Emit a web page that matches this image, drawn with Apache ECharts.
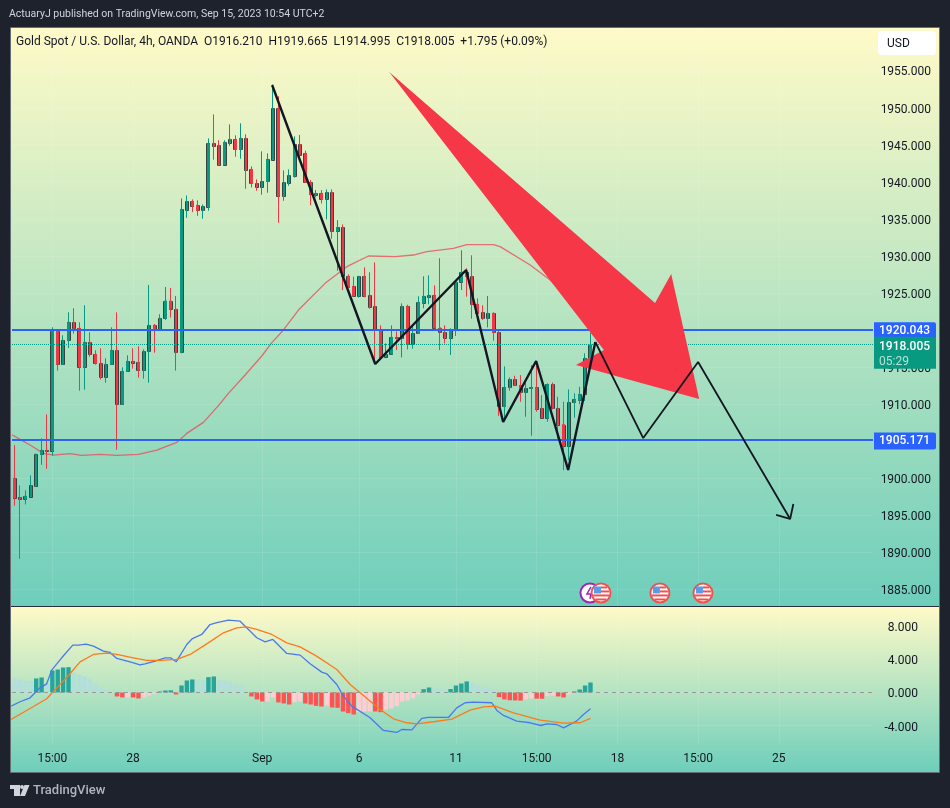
<!DOCTYPE html>
<html>
<head>
<meta charset="utf-8">
<title>Gold Spot / U.S. Dollar</title>
<script src="https://cdn.jsdelivr.net/npm/echarts@6/dist/echarts.min.js"></script>
<style>
html,body{margin:0;padding:0;background:#1e222d}
#main{width:950px;height:808px}
</style>
</head>
<body>
<div id="main"></div>
<script>
// 4h bars, oldest first
var opens=[1899.98,1897.41,1897.23,1897.50,1898.99,1903.22,1903.76,1903.71,1919.87,1915.37,
1918.60,1921.04,1920.23,1915.05,1918.34,1916.72,1915.50,1913.70,1915.37,1917.26,
1909.97,1914.42,1915.77,1915.64,1914.56,1917.12,1920.63,1920.09,1921.58,1923.92,
1922.84,1916.99,1936.22,1937.34,1936.80,1936.13,1936.62,1945.17,1944.90,1942.29,
1945.26,1945.71,1944.36,1945.85,1941.66,1939.77,1939.32,1940.04,1942.97,1949.89,
1938.10,1939.86,1940.81,1945.03,1943.82,1939.91,1938.24,1938.42,1937.70,1938.56,
1933.38,1933.83,1927.24,1925.88,1924.62,1927.24,1924.67,1923.18,1919.95,1916.39,
1916.75,1919.00,1918.87,1923.18,1918.05,1919.54,1923.68,1924.49,1924.67,1920.31,
1919.68,1918.96,1920.08,1926.51,1927.78,1927.24,1923.46,1922.38,1921.57,1922.24,
1919.67,1909.68,1912.25,1913.33,1912.52,1911.57,1912.11,1912.25,1909.42,1908.16,
1912.66,1909.42,1907.25,1904.37,1910.24,1910.55,1911.32,1916.21];
var closes=[1897.37,1897.23,1897.59,1899.03,1903.22,1903.76,1903.71,1919.87,1915.37,1918.60,
1921.04,1920.23,1915.05,1918.34,1916.72,1915.50,1913.70,1915.37,1917.26,1909.97,
1914.42,1915.77,1915.59,1914.56,1917.12,1920.63,1920.00,1921.58,1923.92,1922.84,
1916.99,1936.26,1937.34,1936.76,1936.13,1936.67,1945.17,1944.85,1942.29,1945.31,
1945.71,1944.36,1945.85,1941.62,1939.77,1939.32,1940.04,1943.01,1949.89,1938.10,
1939.90,1940.85,1945.03,1943.60,1939.91,1938.29,1938.42,1937.70,1938.56,1933.38,
1933.83,1927.26,1925.75,1924.62,1927.24,1924.62,1923.14,1919.95,1916.39,1916.70,
1919.00,1918.87,1923.18,1918.05,1919.54,1923.72,1924.54,1924.67,1920.31,1919.68,
1918.96,1920.08,1926.51,1927.78,1927.24,1923.46,1922.33,1921.57,1922.24,1919.67,
1909.68,1912.25,1913.33,1912.52,1911.57,1912.11,1912.25,1909.37,1908.16,1912.66,
1909.42,1907.25,1904.37,1910.24,1910.64,1911.32,1916.17,1918.005];
var lows=[1896.29,1889.13,1896.47,1897.50,1898.85,1901.82,1901.28,1903.04,1914.51,1915.28,
1917.57,1919.51,1911.81,1911.95,1916.40,1915.32,1913.30,1912.89,1915.37,1903.85,
1909.97,1914.42,1914.78,1913.57,1913.43,1912.89,1916.94,1920.00,1921.35,1921.67,
1914.51,1916.85,1935.13,1935.90,1935.40,1935.00,1936.08,1942.97,1942.15,1942.29,
1944.85,1943.37,1943.10,1939.05,1939.23,1938.78,1938.24,1938.51,1942.97,1934.46,
1937.43,1939.45,1940.54,1942.92,1939.91,1936.85,1937.88,1937.07,1934.91,1932.30,
1927.98,1925.37,1925.66,1924.49,1924.36,1924.40,1922.87,1915.49,1916.17,1916.39,
1916.75,1917.29,1916.30,1917.38,1917.47,1919.54,1922.92,1923.45,1920.22,1917.29,
1918.19,1916.62,1919.18,1925.39,1924.49,1921.52,1921.16,1921.34,1920.35,1918.55,
1908.42,1907.93,1911.80,1912.43,1910.31,1908.29,1905.73,1908.97,1908.16,1907.62,
1909.28,1905.36,1901.09,1902.44,1908.16,1909.97,1910.42,1914.995];
var highs=[1904.47,1899.03,1898.36,1900.38,1903.35,1905.38,1908.62,1920.36,1919.87,1919.28,
1922.38,1922.93,1921.04,1923.33,1919.69,1917.26,1917.53,1916.18,1920.36,1922.38,
1914.96,1916.58,1917.53,1917.80,1917.39,1926.07,1920.81,1922.12,1925.80,1925.67,
1924.59,1937.75,1938.15,1937.61,1937.48,1936.94,1945.85,1949.09,1945.58,1945.58,
1947.73,1946.25,1947.87,1946.39,1942.07,1940.31,1944.09,1943.82,1953.09,1951.52,
1941.53,1941.66,1946.11,1946.30,1944.18,1940.22,1938.87,1938.87,1938.96,1938.96,
1934.82,1934.23,1927.50,1927.19,1927.24,1928.45,1927.78,1929.12,1920.62,1918.19,
1920.62,1919.81,1923.59,1923.41,1920.66,1924.54,1927.24,1927.37,1926.02,1929.67,
1920.62,1920.22,1926.74,1930.75,1928.32,1930.07,1924.27,1923.32,1924.58,1922.38,
1920.08,1915.08,1913.60,1913.82,1913.91,1912.92,1915.26,1915.80,1911.21,1912.79,
1912.92,1910.99,1910.32,1911.98,1911.45,1912.34,1916.84,1919.665];

// moving average, vertices (bar position, price)
var maBars=[-0.5,1,2.86,5.33,7.19,10.29,12.46,15.87,18.97,22.99,26.4,30.12,31.98,35.07,37.86,39.72,42.82,45.92,47.78,49.95,
52.73,57.68,61.71,65.74,70.7,74.1,76.58,81.54,84.02,88.97,90.21,95.79,99.5,102.6];
var maPrices=[1905.87,1905.24,1904.48,1903.35,1903.13,1903.31,1903.08,1903.22,1903.08,1903.22,1903.8,1904.84,1906.05,1907.54,1909.79,1911.45,1913.93,1916.49,1918.29,1920.0,
1922.69,1926.29,1928.54,1929.98,1929.89,1930.11,1930.56,1931.0,1931.51,1931.51,1931.24,1928.77,1926.74,1924.5];

// drawings on the price pane
var zigzagBars=[47.84,67,83.9,90.77,96.9,102.85,107.9];
var zigzagPrices=[1953.04,1915.41,1928.09,1907.59,1915.82,1901.12,1918.38];
var forecastBars=[107.9,116.8,127,144.1];
var forecastPrices=[1918.38,1905.42,1915.68,1894.51];
var headBars=[141.5,144.1,144.7];
var headPrices=[1895.05,1894.51,1896.53];
var arrowBars=[69.6,119,122,127.2,104.3,109.5];
var arrowPrices=[1954.8,1923.64,1927.55,1910.69,1915.28,1917.3];
var levelPrices=[1920.043,1905.171];
var lastPrice=1918.005;
var countdown='05:29';
var usEventBars=[108.96,119.9,127.9];
var clockEventBars=[106.9];
var eventPrice=1884.53;

// MACD pane
var histValues=[1.69,1.57,1.41,1.41,1.69,1.81,1.04,2.65,2.77,3.01,
3.05,2.37,2.17,1.97,1.57,1.08,0.64,0.24,0.08,-0.48,
-0.6,-0.58,-0.6,-0.72,-0.6,-0.36,-0.16,0.12,0.24,0.26,
-0.24,0.84,1.45,1.57,1.53,1.45,1.85,1.93,1.53,1.41,
1.29,0.96,0.76,0.08,-0.48,-0.84,-1.08,-1.06,-0.6,-1.2,
-1.33,-1.45,-1.16,-1.08,-1.33,-1.45,-1.61,-1.69,-1.57,-1.81,
-1.85,-2.29,-2.49,-2.65,-2.37,-2.29,-2.27,-2.29,-2.37,-2.05,
-1.93,-1.65,-1.08,-0.96,-0.72,-0.24,0.40,0.60,0.48,0.47,
0.40,0.42,0.84,1.08,1.33,1.08,0.84,0.72,0.60,0.40,
-0.56,-0.84,-0.94,-0.96,-0.98,-0.84,-0.72,-0.74,-0.76,-0.44,
-0.36,-0.48,-0.6,-0.24,0.12,0.36,0.84,1.2];
var macdBars=[-0.68,1,2.86,4.72,5.95,6.88,8.74,10.79,11.84,13.27,14.63,16.49,17.73,18.97,21.44,23.3,24.23,26.09,27.95,29,30,31.98,33.03,34.76,36.3,37.56,39.72,41.89,43.44,44.99,46.54,47.97,50.57,53.04,54.9,57.07,58,59.86,61.1,62.65,66.05,68.52,71,71.94,73.8,75.65,76.9,80.6,82.15,83.7,85.26,88.66,89.6,90.84,93.3,95.8,97.77,98.9,100.75,102,104.4,105.7,107];
var macdValues=[-1.65,-1.12,-0.64,0.56,1.04,2.69,4.18,5.7,5.7,5.82,5.58,4.98,4.82,4.1,3.69,3.33,3.45,3.78,4.18,4.18,3.69,5.78,6.5,6.99,8.19,8.43,8.71,8.59,7.59,6.59,6.1,6.39,4.7,4.5,3.45,2.45,2.25,0.96,-0.44,-1.65,-3.05,-4.58,-4.82,-4.46,-4.5,-3.13,-3.01,-3.01,-1.85,-1.24,-1.16,-1.24,-2.17,-2.77,-3.45,-3.65,-3.98,-3.78,-3.86,-4.26,-3.45,-2.65,-1.97];
var signalBars=[-0.68,2.86,5.95,7.82,9.99,12.15,14.63,17.11,18.97,22.07,24.54,27,30.12,32.6,35.69,38.79,41.27,43.12,44.99,47.78,50.57,53.04,56.1,59.86,62.34,64.81,67.91,70.39,72.87,74.73,77.82,81.23,84.64,87.12,89.29,92.69,97.65,102,105.1,107];
var signalValues=[-3.25,-1.93,-0.76,0.56,2.05,3.69,4.58,4.74,4.58,4.18,3.86,3.86,3.98,4.58,5.86,7.19,7.79,7.91,7.59,6.99,5.98,5.5,4.38,2.77,0.96,-0.36,-2.05,-3.17,-3.65,-3.78,-3.53,-3.21,-2.13,-1.73,-1.65,-2.45,-3.33,-3.69,-3.65,-3.13];

// axis ticks
var tickBars=[7,22,46,64,82,97,112,127,142];
var tickTexts=['15:00','28','Sep','6','11','15:00','18','15:00','25'];
var priceTicks=[1885,1890,1895,1900,1905,1910,1915,1920,1925,1930,1935,1940,1945,1950,1955];
var macdTicks=[-4,0,4,8];

var BAR_SLOTS=160;
var FONT='Roboto, sans-serif';
var UP='#089981', DOWN='#f23645', BLUE='#2962ff';
var GRID_LINE='rgba(255,255,255,0.1)';

var categories=[];
for(var i=0;i<BAR_SLOTS;i++){
    var t=tickBars.indexOf(i);
    categories.push(t>=0?tickTexts[t]:'');
}

function zip(a,b){
    return a.map(function(v,k){return [v,b[k]];});
}
var isTick=function(index){return tickBars.indexOf(index)>=0;};
var priceLabel=function(v){return '{v|'+v.toFixed(3)+'}';};
// pushes the axis numbers down onto their ticks
var priceLabelRich={v:{padding:[4,0,0,0],color:'#131722',fontSize:12,fontFamily:FONT}};

function paneGradient(){
    return new echarts.graphic.LinearGradient(0,0,0,1,[
        {offset:0,color:'#fffac8'},
        {offset:1,color:'#6ecebb'}
    ]);
}

function histColor(p){
    var v=p.value, k=p.dataIndex;
    var prev=k>0?histValues[k-1]:v;
    if(v>=0) return v>prev?'#26a69a':'#b2dfdb';
    return v<prev?'#ff5252':'#ffcdd2';
}

function renderOutline(params,api){
    var x=Math.round(api.coord([api.value(0),0])[0]);
    var top=Math.round(api.coord([0,Math.max(api.value(1),api.value(2))])[1]);
    var bottom=Math.round(api.coord([0,Math.min(api.value(1),api.value(2))])[1]);
    return {type:'rect',shape:{x:x-1.5,y:top+0.5,width:3,height:Math.max(bottom-top,1)},
        style:{fill:'none',stroke:'rgba(50,58,58,0.95)',lineWidth:1}};
}

function renderArrow(params,api){
    var pts=zip(arrowBars,arrowPrices).map(function(p){return api.coord(p);});
    return {type:'polygon',shape:{points:pts},style:{fill:'#f53748'}};
}

function renderEvent(params,api){
    var c=api.coord([api.value(0),eventPrice]);
    if(api.value(1)==1){
        return {type:'group',x:c[0],y:c[1],children:[
            {type:'circle',shape:{r:9.5},style:{fill:'#fff',stroke:'#9c27b0',lineWidth:2}},
            {type:'polyline',shape:{points:[[1,-6],[-3,1],[1,1],[0,6]]},style:{fill:'none',stroke:'#9c27b0',lineWidth:1.5}}
        ]};
    }
    return {type:'group',x:c[0],y:c[1],children:[
        {type:'circle',shape:{r:9.5},style:{fill:'#fff',stroke:'#ef5350',lineWidth:2}},
        {type:'rect',shape:{x:0,y:-6.5,width:6,height:2},style:{fill:'#ef5350'}},
        {type:'rect',shape:{x:0,y:-2.5,width:8,height:2},style:{fill:'#ef5350'}},
        {type:'rect',shape:{x:-8,y:1.5,width:16,height:2},style:{fill:'#ef5350'}},
        {type:'rect',shape:{x:-5.5,y:5.5,width:11,height:2},style:{fill:'#ef5350'}},
        {type:'rect',shape:{x:-7,y:-6.5,width:7,height:7},style:{fill:'#5b9be6'}}
    ]};
}

var candleData=opens.map(function(o,k){return [o,closes[k],lows[k],highs[k]];});
var outlineData=opens.map(function(o,k){return [k,o,closes[k]];});
var eventData=clockEventBars.map(function(b){return [b,1];}).concat(usEventBars.map(function(b){return [b,0];}));

var levelLines=levelPrices.map(function(p){
    return {yAxis:p,
        lineStyle:{color:BLUE,width:2,type:'solid'},
        label:{formatter:p.toFixed(3),backgroundColor:BLUE,color:'#fff',fontWeight:500,padding:[3,5,2,5],width:52,align:'left',offset:[0,1],borderRadius:[0,2,2,0]}};
});

var myChart=echarts.init(document.getElementById('main'));
var option={
    animation:false,
    backgroundColor:'#1e222d',
    textStyle:{fontFamily:FONT},
    title:[
        {text:'ActuaryJ published on TradingView.com, Sep 15, 2023 10:54 UTC+2',left:9,top:9,padding:0,textStyle:{color:'#d1d4dc',fontSize:10.5,fontWeight:'normal',fontFamily:FONT}},
        {text:'Gold Spot / U.S. Dollar, 4h, OANDA  O1916.210  H1919.665  L1914.995  C1918.005  +1.795 (+0.09%)',left:16,top:36,padding:0,textStyle:{color:'#131722',fontSize:12,fontWeight:'normal',fontFamily:FONT}},
        {text:'TradingView',left:33,top:784,padding:0,textStyle:{color:'#b2b5be',fontSize:13,fontWeight:500,fontFamily:FONT}}
    ],
    graphic:[
        {type:'rect',z:-10,shape:{x:11,y:28,width:928,height:578},style:{fill:paneGradient()}},
        {type:'rect',z:-10,shape:{x:11,y:607,width:928,height:165},style:{fill:paneGradient()}},
        {type:'rect',z:-9,shape:{x:10.5,y:27.5,width:929,height:745},style:{fill:'none',stroke:'rgba(120,130,135,0.8)',lineWidth:1}},
        {type:'rect',z:-9,shape:{x:11,y:606,width:928,height:1},style:{fill:'#2a2e39'}},
        {type:'rect',z:50,shape:{x:878,y:31,width:58,height:24,r:4},style:{fill:'#fff'}},
        {type:'text',z:51,x:887,y:38,style:{text:'USD',fill:'#131722',font:'12px '+FONT}},
        {type:'polygon',z:50,shape:{points:[[10,785],[20,785],[20,796],[14,796],[14,789],[10,789]]},style:{fill:'#d1d4dc'}},
        {type:'circle',z:50,shape:{cx:22,cy:787,r:2},style:{fill:'#d1d4dc'}},
        {type:'polygon',z:50,shape:{points:[[24.5,785],[29.5,785],[25,796],[20,796]]},style:{fill:'#d1d4dc'}}
    ],
    grid:[
        {left:12,width:861,top:28,height:578},
        {left:12,width:861,top:607,height:138}
    ],
    xAxis:[
        {type:'category',gridIndex:0,data:categories,boundaryGap:true,
            axisLine:{show:false},axisTick:{show:false},axisLabel:{show:false},
            splitLine:{show:true,interval:isTick,alignWithLabel:true,lineStyle:{color:GRID_LINE}}},
        {type:'value',gridIndex:0,min:-0.5,max:BAR_SLOTS-0.5,show:false,splitLine:{show:false}},
        {type:'category',gridIndex:1,data:categories,boundaryGap:true,
            axisLine:{show:false},axisTick:{show:false},
            axisLabel:{interval:isTick,color:'#131722',fontSize:12,margin:8},
            splitLine:{show:true,interval:isTick,alignWithLabel:true,lineStyle:{color:GRID_LINE}}},
        {type:'value',gridIndex:1,min:-0.5,max:BAR_SLOTS-0.5,show:false,splitLine:{show:false}}
    ],
    yAxis:[
        {type:'value',gridIndex:0,position:'right',min:1882.77,max:1960.73,scale:true,
            axisLine:{show:false},axisTick:{show:false,customValues:priceTicks},
            axisLabel:{customValues:priceTicks,align:'right',margin:58,formatter:priceLabel,rich:priceLabelRich},
            splitLine:{show:true,lineStyle:{color:GRID_LINE}}},
        {type:'value',gridIndex:1,position:'right',min:-6.33,max:10.3,
            axisLine:{show:false},axisTick:{show:false,customValues:macdTicks},
            axisLabel:{customValues:macdTicks,align:'right',margin:45,formatter:priceLabel,rich:priceLabelRich},
            splitLine:{show:true,lineStyle:{color:GRID_LINE}}}
    ],
    series:[
        {name:'MA',type:'line',xAxisIndex:1,yAxisIndex:0,data:zip(maBars,maPrices),showSymbol:false,z:2,
            lineStyle:{color:'rgba(235,70,85,0.75)',width:1.3}},
        {name:'XAUUSD',type:'candlestick',xAxisIndex:0,yAxisIndex:0,data:candleData,barWidth:2,z:3,
            itemStyle:{color:UP,color0:DOWN,borderColor:UP,borderColor0:DOWN,borderWidth:1},
            markLine:{symbol:'none',silent:true,z:4,
                label:{position:'end',distance:1,fontSize:12,fontFamily:FONT},
                data:levelLines.concat([{yAxis:lastPrice,
                    lineStyle:{color:UP,width:1,type:'dotted'},
                    label:{formatter:'{a|'+lastPrice.toFixed(3)+'}\n{b|'+countdown+'}',backgroundColor:UP,padding:[3,5,0,5],width:52,align:'left',offset:[0,8],
                        rich:{a:{color:'#fff',fontWeight:500,fontSize:12,lineHeight:15,fontFamily:FONT},b:{color:'rgba(255,255,255,0.7)',fontSize:12,lineHeight:14,fontFamily:FONT}}}}])
            }},
        {name:'Body outline',type:'custom',xAxisIndex:0,yAxisIndex:0,data:outlineData,z:3,
            encode:{x:0,y:[1,2]},renderItem:renderOutline},
        {name:'Arrow',type:'custom',xAxisIndex:1,yAxisIndex:0,data:[[arrowBars[0],arrowPrices[0]]],z:5,
            encode:{x:0,y:1},renderItem:renderArrow},
        {name:'Zigzag',type:'line',xAxisIndex:1,yAxisIndex:0,data:zip(zigzagBars,zigzagPrices),showSymbol:false,z:6,
            lineStyle:{color:'#131722',width:2.4}},
        {name:'Forecast',type:'line',xAxisIndex:1,yAxisIndex:0,data:zip(forecastBars,forecastPrices),showSymbol:false,z:6,
            lineStyle:{color:'#131722',width:1.8}},
        {name:'Forecast head',type:'line',xAxisIndex:1,yAxisIndex:0,data:zip(headBars,headPrices),showSymbol:false,z:6,
            lineStyle:{color:'#131722',width:1.8}},
        {name:'Events',type:'custom',xAxisIndex:1,yAxisIndex:0,data:eventData,z:7,
            encode:{x:0,y:1},renderItem:renderEvent},
        {name:'Histogram',type:'bar',xAxisIndex:2,yAxisIndex:1,data:histValues,barWidth:4.4,z:2,
            itemStyle:{color:histColor},
            markLine:{symbol:'none',silent:true,label:{show:false},
                lineStyle:{color:'#9a9a9a',type:[4,4],width:1},data:[{yAxis:0}]}},
        {name:'MACD',type:'line',xAxisIndex:3,yAxisIndex:1,data:zip(macdBars,macdValues),showSymbol:false,z:3,
            lineStyle:{color:'#4a78f0',width:1.3}},
        {name:'Signal',type:'line',xAxisIndex:3,yAxisIndex:1,data:zip(signalBars,signalValues),showSymbol:false,z:3,
            lineStyle:{color:'#ff7a1a',width:1.3}}
    ]
};
myChart.setOption(option);
</script>
</body>
</html>
